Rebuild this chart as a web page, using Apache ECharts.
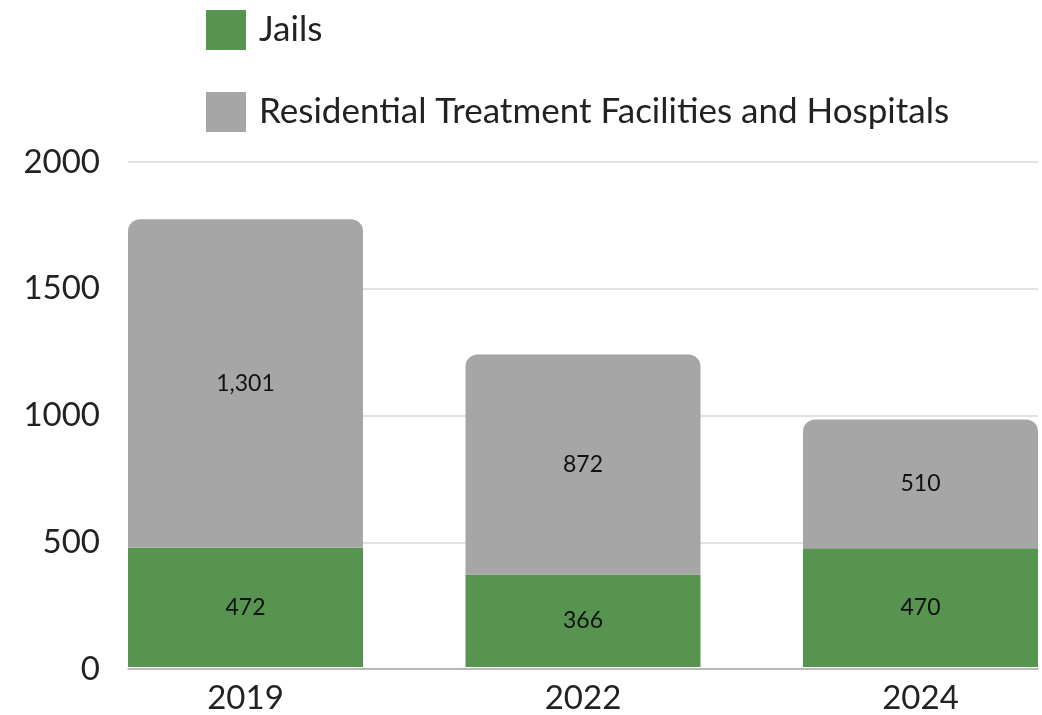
<!DOCTYPE html>
<html>
<head>
<meta charset="utf-8">
<script src="https://cdn.jsdelivr.net/npm/echarts@6/dist/echarts.min.js"></script>
<style>
  html, body { margin: 0; padding: 0; background: #fff; overflow: hidden; }
  /* canvas is a bit wider than the window so the bar grid can run past the right edge */
  #chart { width: 1100px; height: 715px; }
</style>
</head>
<body>
<div id="chart"></div>
<script>
const years = ['2019', '2022', '2024']
const jails = [472, 366, 470]
const residential = [1301, 872, 510]
const yTicks = [0, 500, 1000, 1500, 2000]

const chart = echarts.init(document.getElementById('chart'))
const font = 'Lato, "Noto Sans", sans-serif'

const labelStyle = {
  show: true,
  position: 'inside',
  fontSize: 23,
  color: '#111',
  fontFamily: font,
  formatter: p => p.value.toLocaleString('en-US'),
}

// grid 0 draws the frame (y labels, split lines, base line);
// grid 1 is wider so the outer bars touch the frame edges like the original
const option = {
  animation: false,
  textStyle: { fontFamily: font },
  legend: {
    orient: 'vertical',
    left: 201,
    top: 5,
    itemWidth: 40,
    itemHeight: 40,
    itemGap: 42,
    icon: 'rect',
    textStyle: { fontSize: 35, color: '#222', fontFamily: font, padding: [0, 0, 0, 8] },
    data: ['Jails', 'Residential Treatment Facilities and Hospitals'],
  },
  grid: [
    { left: 128, right: 62, top: 162, bottom: 46 },
    { left: 76.75, right: 10.75, top: 162, bottom: 46 },
  ],
  xAxis: [
    {
      gridIndex: 0,
      type: 'category',
      data: years,
      axisTick: { show: false },
      axisLabel: { show: false },
      axisLine: { lineStyle: { color: '#aaaaaa', width: 1.5 } },
    },
    {
      gridIndex: 1,
      type: 'category',
      data: years,
      axisTick: { show: false },
      axisLine: { show: false },
      axisLabel: { fontSize: 33, color: '#222', margin: 15, fontFamily: font },
    },
  ],
  yAxis: [
    {
      gridIndex: 0,
      type: 'value',
      min: yTicks[0],
      max: yTicks[yTicks.length - 1],
      interval: 500,
      axisLabel: { fontSize: 33, color: '#222', margin: 28, fontFamily: font, formatter: v => String(v) },
      splitLine: { lineStyle: { color: '#d9d9d9', width: 1.5 } },
    },
    {
      gridIndex: 1,
      type: 'value',
      min: yTicks[0],
      max: yTicks[yTicks.length - 1],
      interval: 500,
      show: false,
    },
  ],
  series: [
    {
      name: 'Jails',
      type: 'bar',
      stack: 'total',
      xAxisIndex: 1,
      yAxisIndex: 1,
      barWidth: 235,
      data: jails,
      itemStyle: { color: '#57944f' },
      label: labelStyle,
    },
    {
      name: 'Residential Treatment Facilities and Hospitals',
      type: 'bar',
      stack: 'total',
      xAxisIndex: 1,
      yAxisIndex: 1,
      barWidth: 235,
      data: residential,
      itemStyle: { color: '#a6a6a6', borderRadius: [12, 12, 0, 0] },
      label: labelStyle,
    },
  ],
}

chart.setOption(option)
</script>
</body>
</html>
